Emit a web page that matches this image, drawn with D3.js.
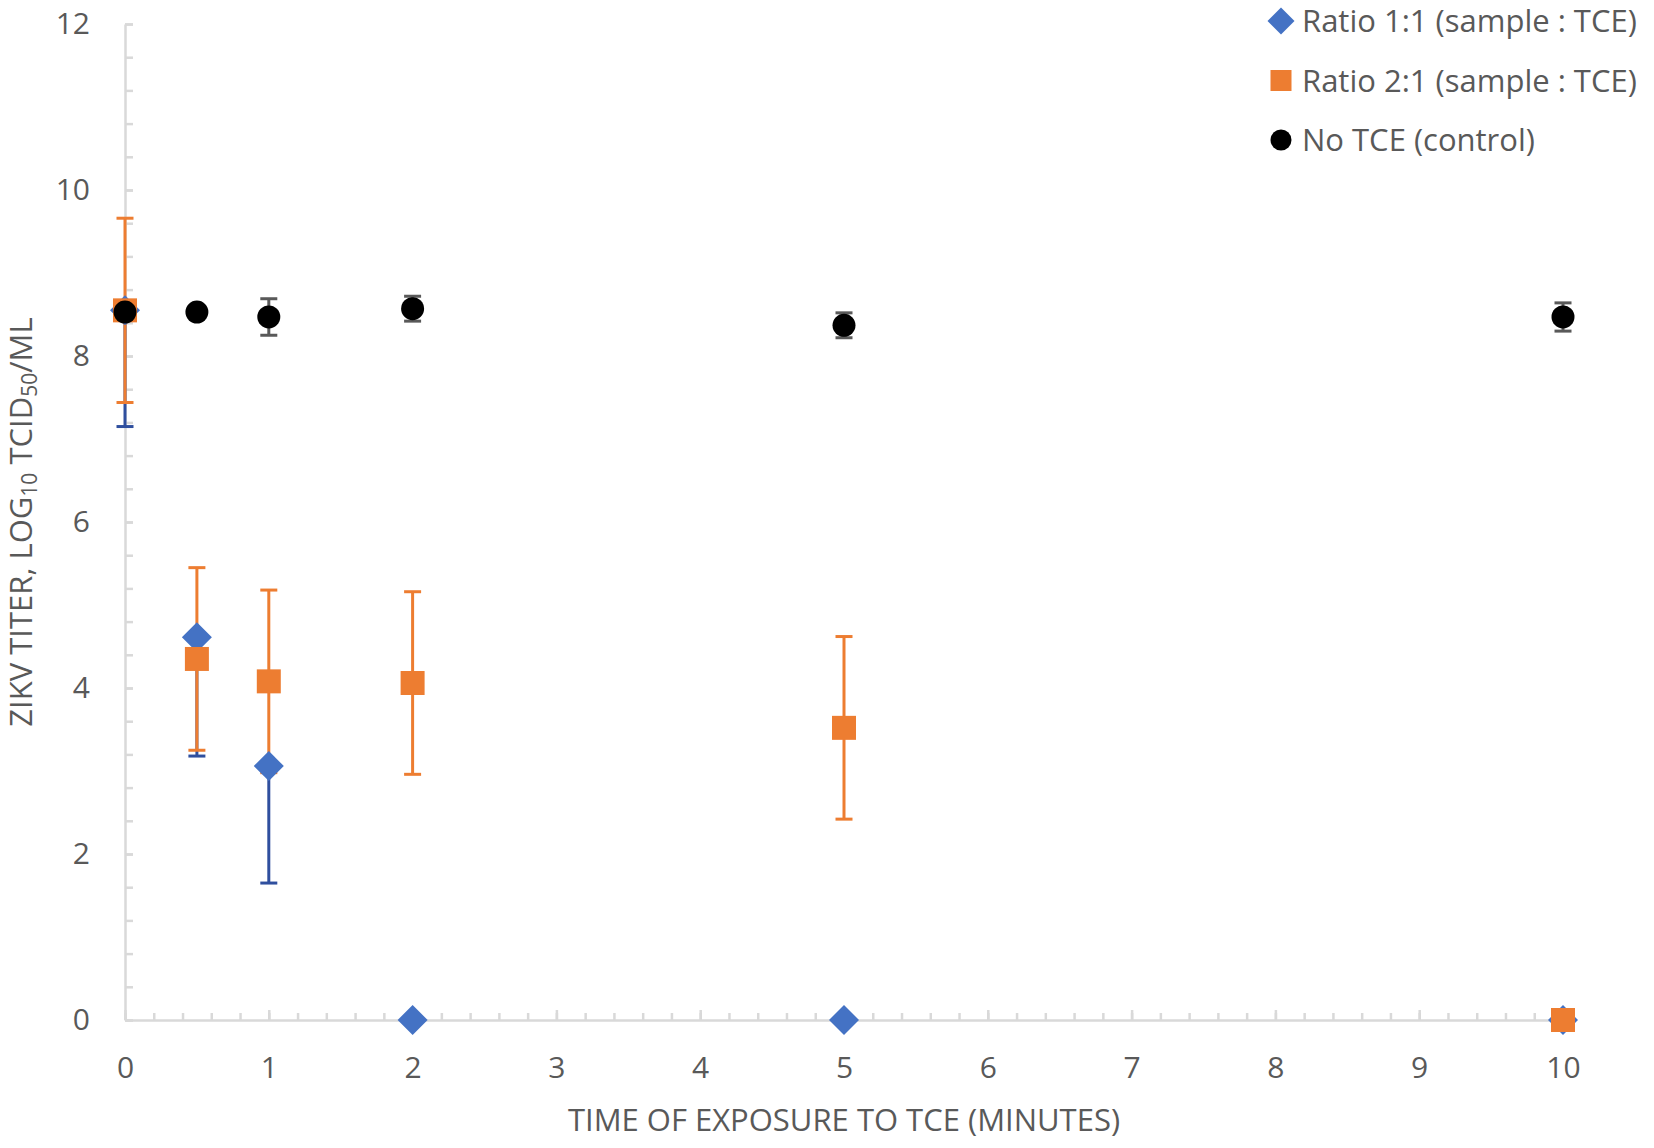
<!DOCTYPE html>
<html>
<head>
<meta charset="utf-8">
<script src="https://cdn.jsdelivr.net/npm/d3@7"></script>
<style>
  body { margin: 0; background: #fff; }
  text { font-family: "Open Sans", "Noto Sans", sans-serif; fill: #595959; }
</style>
</head>
<body>
<svg id="chart" width="1654" height="1148"></svg>
<script>
// exposure times (minutes)
const times = [0, 0.5, 1, 2, 5, 10];

// Ratio 1:1 (sample : TCE) -- only minus error bars
const ratio11 = [8.55, 4.61, 3.06, 0, 0, 0];
const ratio11ErrMinus = [1.4, 1.43, 1.41, 0, 0, 0];

// Ratio 2:1 (sample : TCE)
const ratio21 = [8.55, 4.35, 4.08, 4.06, 3.52, 0];
const ratio21Err = [1.11, 1.1, 1.1, 1.1, 1.1, 0];

// No TCE (control)
const control = [8.53, 8.53, 8.47, 8.57, 8.37, 8.47];
const controlErr = [0.05, 0.05, 0.22, 0.15, 0.15, 0.17];

const xTicks = [0, 1, 2, 3, 4, 5, 6, 7, 8, 9, 10];
const yTicks = [0, 2, 4, 6, 8, 10, 12];
const legendLabels = ["Ratio 1:1 (sample : TCE)", "Ratio 2:1 (sample : TCE)", "No TCE (control)"];

const svg = d3.select("#chart");
const margin = {top: 24, right: 91, bottom: 128, left: 125};
const width = +svg.attr("width") - margin.left - margin.right;
const height = +svg.attr("height") - margin.top - margin.bottom;

const x = d3.scaleLinear().domain([0, 10]).range([0, width]);
const y = d3.scaleLinear().domain([0, 12]).range([height, 0]);

const g = svg.append("g")
    .attr("transform", `translate(${margin.left},${margin.top})`);

// minor ticks
g.append("g")
    .attr("class", "axis")
    .call(d3.axisLeft(y).tickValues(d3.range(0, 12.01, 0.4)).tickSize(-8).tickFormat(""))
    .call(a => a.select(".domain").remove());
g.append("g")
    .attr("class", "axis")
    .attr("transform", `translate(0,${height})`)
    .call(d3.axisBottom(x).tickValues(d3.range(0, 10.01, 0.2)).tickSize(-7).tickFormat(""))
    .call(a => a.select(".domain").remove());

// y axis
g.append("g")
    .attr("class", "axis")
    .call(d3.axisLeft(y).tickValues(yTicks).tickSizeInner(-8).tickSizeOuter(0).tickPadding(35))
    .call(a => a.selectAll(".tick text").style("font-size", "30px"));

// x axis
g.append("g")
    .attr("class", "axis")
    .attr("transform", `translate(0,${height})`)
    .call(d3.axisBottom(x).tickValues(xTicks).tickSizeInner(-10).tickSizeOuter(0).tickPadding(37))
    .call(a => a.selectAll(".tick text").style("font-size", "30px"));

svg.selectAll(".axis path, .axis line")
    .attr("stroke", "#d9d9d9")
    .attr("stroke-width", 2.5);
svg.selectAll(".axis text").attr("fill", "#595959").attr("font-family", null);

// x label
g.append("text")
    .attr("x", width / 2)
    .attr("y", height + 111)
    .attr("text-anchor", "middle")
    .style("font-size", "31px")
    .text("TIME OF EXPOSURE TO TCE (MINUTES)");

// y label with subscripts
const yl = svg.append("text")
    .attr("transform", `translate(32,${margin.top + height / 2}) rotate(-90)`)
    .attr("text-anchor", "middle")
    .style("font-size", "31px");
yl.append("tspan").text("ZIKV TITER, LOG");
yl.append("tspan").attr("baseline-shift", "-25%").style("font-size", "21px").text("10");
yl.append("tspan").text(" TCID");
yl.append("tspan").attr("baseline-shift", "-25%").style("font-size", "21px").text("50");
yl.append("tspan").text("/ML");

// series
const series = [
    {vals: ratio11, up: ratio11.map(() => 0), down: ratio11ErrMinus, color: "#4472c4", errColor: "#2f4f9e",
     symbol: d3.symbolSquare, size: 450, rot: 45},
    {vals: ratio21, up: ratio21Err, down: ratio21Err, color: "#ed7d31", errColor: "#ed7d31",
     symbol: d3.symbolSquare, size: 576, rot: 0},
    {vals: control, up: controlErr, down: controlErr, color: "#000000", errColor: "#595959",
     symbol: d3.symbolCircle, size: 415, rot: 0}
];

const cap = 8.5;
series.forEach(s => {
    const eb = g.append("g");
    times.forEach((t, i) => {
        const hi = s.vals[i] + s.up[i], lo = s.vals[i] - s.down[i];
        if (s.up[i] === 0 && s.down[i] === 0) return;
        const px = x(t);
        eb.append("line").attr("x1", px).attr("x2", px)
            .attr("y1", y(hi)).attr("y2", y(lo));
        if (s.up[i] > 0) {
            eb.append("line").attr("x1", px - cap).attr("x2", px + cap)
                .attr("y1", y(hi)).attr("y2", y(hi));
        }
        if (s.down[i] > 0) {
            eb.append("line").attr("x1", px - cap).attr("x2", px + cap)
                .attr("y1", y(lo)).attr("y2", y(lo));
        }
    });
    eb.selectAll("line").attr("stroke", s.errColor).attr("stroke-width", 3);
});

series.forEach(s => {
    g.append("g").selectAll("path")
        .data(times.map((t, i) => [t, s.vals[i]]))
        .join("path")
        .attr("transform", d => `translate(${x(d[0])},${y(d[1])}) rotate(${s.rot})`)
        .attr("d", d3.symbol(s.symbol, s.size))
        .attr("fill", s.color);
});

// legend
const legendSizes = [365, 441, 346];
const legend = svg.append("g").attr("transform", "translate(1281,21)");
legendLabels.forEach((lab, i) => {
    const row = legend.append("g").attr("transform", `translate(0,${i * 59.5})`);
    row.append("path")
        .attr("d", d3.symbol(series[i].symbol, legendSizes[i]))
        .attr("transform", `rotate(${series[i].rot})`)
        .attr("fill", series[i].color);
    row.append("text")
        .attr("x", 21)
        .attr("dy", "0.36em")
        .style("font-size", "31px")
        .text(lab);
});
</script>
</body>
</html>
